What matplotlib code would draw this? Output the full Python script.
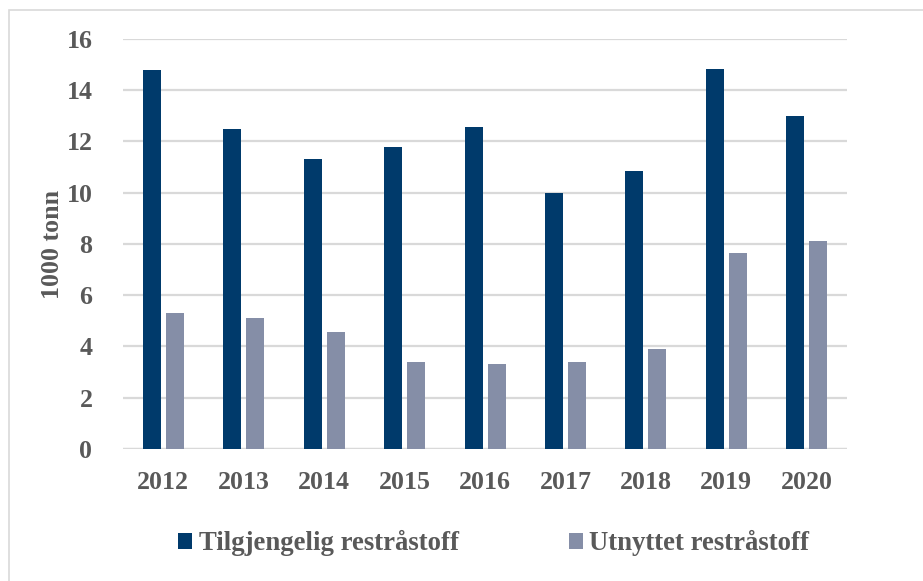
import matplotlib
matplotlib.use("Agg")
import matplotlib.pyplot as plt
import numpy as np
from matplotlib.patches import Rectangle, Patch

years = ["2012", "2013", "2014", "2015", "2016", "2017", "2018", "2019", "2020"]
tilgjengelig = [14.8, 12.5, 11.33, 11.8, 12.57, 10.0, 10.85, 14.83, 13.0]
utnyttet = [5.3, 5.1, 4.56, 3.4, 3.31, 3.4, 3.9, 7.63, 8.1]
yticks = [0, 2, 4, 6, 8, 10, 12, 14, 16]
labels = ["Tilgjengelig restråstoff", "Utnyttet restråstoff"]

navy = "#003A6B"
grey = "#858EA7"
txt = "#595959"
gridc = "#D9D9D9"

plt.rcParams['font.family'] = ['Liberation Serif', 'DejaVu Serif']
plt.rcParams['font.weight'] = 'bold'

fig = plt.figure(figsize=(9.23, 5.81), dpi=100)
ax = fig.add_axes([0.1333, 0.2272, 0.9177 - 0.1333, 0.9329 - 0.2272])

x = np.arange(len(years))
w = 0.224
off = 0.143
ax.bar(x - off, tilgjengelig, width=w, color=navy, zorder=3, label=labels[0])
ax.bar(x + off, utnyttet, width=w, color=grey, zorder=3, label=labels[1])

ax.set_xlim(-0.5, len(years) - 0.5)
ax.set_ylim(0, 16)
ax.set_yticks(yticks)
ax.set_yticklabels([str(v) for v in yticks])
ax.set_xticks(x)
ax.set_xticklabels(years)
ax.yaxis.grid(True, color=gridc, linewidth=1.6, zorder=0)
ax.set_axisbelow(True)
for s in ax.spines.values():
    s.set_visible(False)
ax.axhline(0, color=gridc, linewidth=1.6, zorder=2)
ax.tick_params(axis='both', length=0, labelsize=18.6, colors=txt)
ax.tick_params(axis='y', pad=22)
ax.tick_params(axis='x', pad=16)
for t in ax.get_xticklabels() + ax.get_yticklabels():
    t.set_fontweight('bold')
ax.set_ylabel("1000 tonn", fontsize=18.6, color=txt, fontweight='bold', labelpad=2)

handles = [Patch(facecolor=navy), Patch(facecolor=grey)]
fig.legend(handles, labels, loc='center', bbox_to_anchor=(0.535, 0.065), ncol=2,
           frameon=False, prop={'size': 19.3, 'weight': 'bold'}, labelcolor=txt,
           handlelength=0.52, handleheight=0.52, handletextpad=0.25, columnspacing=4.1)

fig.patches.append(Rectangle((9 / 923, -0.1), 1.2, 1 - 10 / 581 + 0.1, transform=fig.transFigure,
                             fill=False, edgecolor=gridc, linewidth=1.2, zorder=-1))

fig.savefig("out.png", dpi=100)
